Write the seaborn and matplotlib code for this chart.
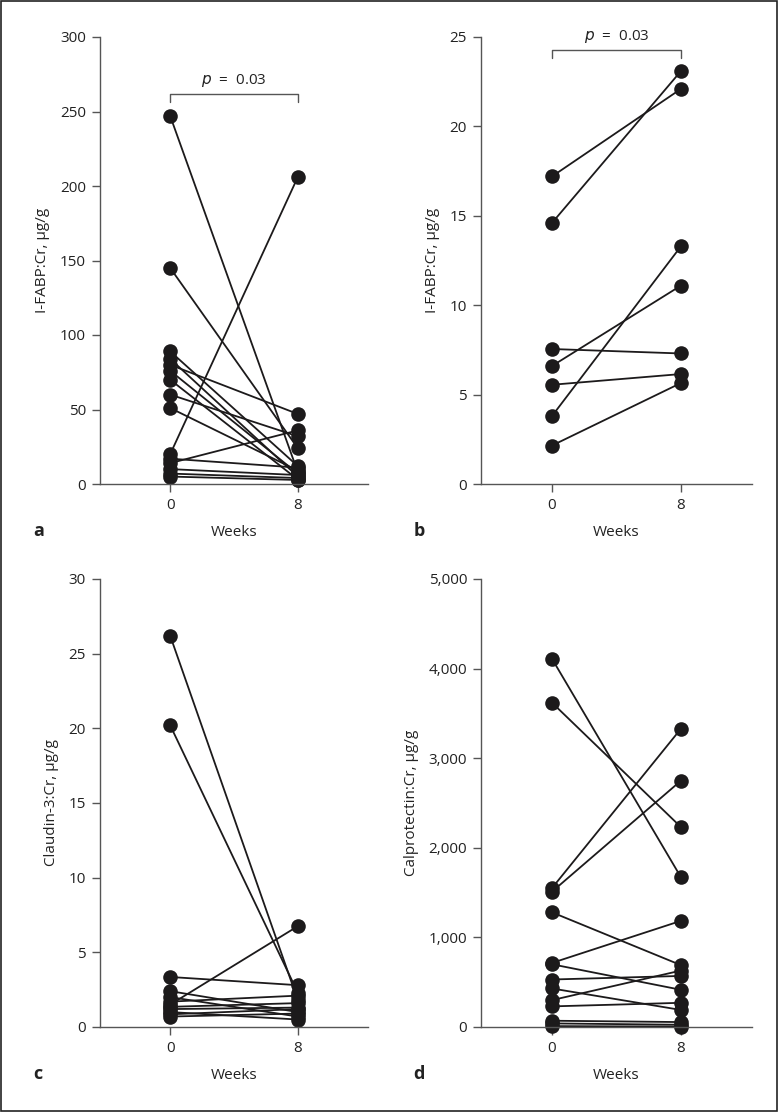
import pandas as pd
import matplotlib.pyplot as plt
import matplotlib.ticker as mticker
from matplotlib.patches import Rectangle
import seaborn as sns

# Week values for each subject (0 = baseline, 8 = after 8 weeks)
weeks = [0, 8]

ifabp_a_w0 = [247, 145, 89, 84, 80, 76, 70, 60, 51, 20, 17, 14, 10, 7, 5]
ifabp_a_w8 = [8, 24, 12, 5, 47, 7, 3, 32, 9, 206, 11, 36, 6, 4, 2.7]

ifabp_b_w0 = [17.2, 14.6, 7.55, 6.6, 5.55, 3.8, 2.15]
ifabp_b_w8 = [22.1, 23.1, 7.3, 11.1, 6.15, 13.3, 5.65]

claudin_w0 = [26.2, 20.2, 3.35, 2.4, 2.0, 1.7, 1.5, 1.35, 1.2, 1.0, 0.85, 0.7]
claudin_w8 = [1.8, 2.3, 2.8, 1.0, 0.7, 2.1, 6.75, 1.6, 1.3, 0.5, 1.2, 0.9]

calpro_w0 = [4110, 3620, 1550, 1510, 1280, 715, 700, 530, 430, 300, 230, 70, 40, 10]
calpro_w8 = [1670, 2230, 3330, 2750, 690, 1185, 415, 570, 190, 630, 270, 55, 25, 5]

panels = [
    ("a", ifabp_a_w0, ifabp_a_w8, "I-FABP:Cr, µg/g", 300, 50, True),
    ("b", ifabp_b_w0, ifabp_b_w8, "I-FABP:Cr, µg/g", 25, 5, True),
    ("c", claudin_w0, claudin_w8, "Claudin-3:Cr, µg/g", 30, 5, False),
    ("d", calpro_w0, calpro_w8, "Calprotectin:Cr, µg/g", 5000, 1000, False),
]

sns.set_style("white")
plt.rcParams['font.family'] = ['Open Sans', 'DejaVu Sans']
plt.rcParams['font.size'] = 11

fig = plt.figure(figsize=(7.78, 11.12), dpi=100)
W, H = 778, 1112

# axes boxes in pixels: left, right, top, bottom
boxes = [(100, 368, 37, 484), (481, 752, 37, 484),
         (100, 368, 579, 1027), (481, 752, 579, 1027)]

grey = "#555555"
ink = "#1c1a1b"
txt = "#222222"

for (letter, w0, w8, ylabel, ymax, ystep, sig), (l, r, t, b) in zip(panels, boxes):
    ax = fig.add_axes([l / W, 1 - b / H, (r - l) / W, (b - t) / H])
    rows = []
    for i, (v0, v8) in enumerate(zip(w0, w8)):
        rows.append({"subject": i, "week": 0, "value": v0})
        rows.append({"subject": i, "week": 8, "value": v8})
    df = pd.DataFrame(rows)

    sns.lineplot(data=df, x="week", y="value", units="subject", estimator=None,
                 color=ink, linewidth=1.3, marker="o", markersize=10.5,
                 markeredgewidth=0, ax=ax, clip_on=False)

    ax.set_xlim(-4.4, 12.4)
    ax.set_ylim(0, ymax)
    ax.set_xticks(weeks)
    ax.set_yticks(range(0, ymax + 1, ystep))
    if ymax >= 1000:
        ax.yaxis.set_major_formatter(mticker.StrMethodFormatter("{x:,.0f}"))
    ax.spines[["top", "right"]].set_visible(False)
    for s in ["left", "bottom"]:
        ax.spines[s].set_color(grey)
        ax.spines[s].set_linewidth(1.0)
    ax.tick_params(axis="both", direction="out", length=6, width=1, color=grey,
                   labelcolor=txt, labelsize=11, pad=4, left=True, bottom=True)
    ax.set_xlabel("Weeks", fontsize=11, color=txt, labelpad=9)
    ax.set_ylabel(ylabel, fontsize=11, color=txt, labelpad=7)

    ax.text(-0.25, -0.105, letter, transform=ax.transAxes, fontsize=13,
            fontweight="bold", color=txt, ha="left", va="center")

    if sig:
        yb = ymax * (262 / 300 if letter == "a" else 24.3 / 25)
        dy = ymax * 0.018
        ax.plot([0, 0, 8, 8], [yb - dy, yb, yb, yb - dy], color=grey,
                linewidth=1, clip_on=False)
        ax.text(4, yb + ymax * 0.01, "$p$  =  0.03", ha="center", va="bottom",
                fontsize=11, color=txt)

fig.patches.append(Rectangle((0.0015, 0.001), 0.997, 0.998, transform=fig.transFigure,
                             fill=False, edgecolor=txt, linewidth=1.2))

fig.savefig("out.png", dpi=100)
